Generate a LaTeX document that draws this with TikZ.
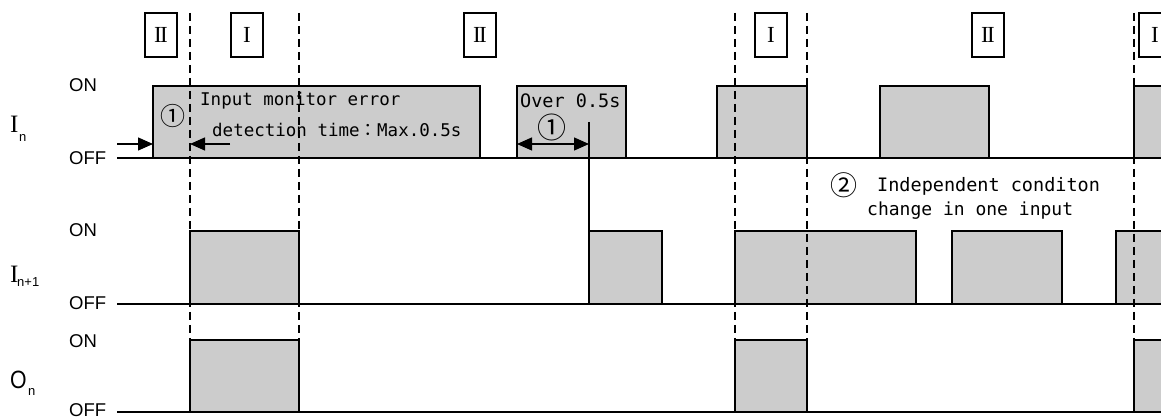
\documentclass[tikz,border=0pt]{standalone}
\usepackage{fontspec}
\setmainfont{Liberation Sans}
\newfontfamily\cjk{Noto Sans CJK JP}
\newfontfamily\mono{DejaVu Sans Mono}
\newfontfamily\serifI{Liberation Serif}
\newcommand\romI{I}
\newcommand\romII{I\kern-1.6pt I}
\usetikzlibrary{arrows.meta}
\begin{document}
\begin{tikzpicture}[x=1pt,y=-1pt,
  pulse/.style={draw=black, line width=1.6pt, fill=black!20},
  base/.style={line width=1.6pt},
  guide/.style={line width=1.5pt, dash pattern=on 8pt off 5pt},
  tag/.style={draw, line width=1.2pt, minimum width=32pt, minimum height=44pt, inner sep=0pt, font=\serifI\fontsize{23}{23}\selectfont},
  lvl/.style={anchor=base west, inner sep=0pt, font=\fontsize{18.5}{18.5}\selectfont},
  note/.style={anchor=base west, inner sep=0pt, font=\mono\fontsize{17.5}{20}\selectfont},
  circ/.style={inner sep=0pt, font=\cjk\fontsize{27}{27}\selectfont},
  sig/.style={anchor=base west, inner sep=0pt, font=\serifI\fontsize{25}{25}\selectfont},
  sub/.style={anchor=base west, inner sep=0pt, font=\fontsize{13}{13}\selectfont},
  arr/.style={line width=1.3pt, -{Triangle[length=15pt,width=13pt]}},
  darr/.style={line width=1.3pt, {Triangle[length=15pt,width=13pt]}-{Triangle[length=15pt,width=13pt]}}
]
\useasboundingbox (0,0) rectangle (1161,419);
\clip (0,0) rectangle (1161,419);

% ---- pulses: I_n
\draw[pulse] (153,158) rectangle (480,86);
\draw[pulse] (517,158) rectangle (626,86);
\draw[pulse] (717,158) rectangle (807,86);
\draw[pulse] (880,158) rectangle (989,86);
\draw[pulse] (1134,158) rectangle (1180,86);
% ---- pulses: I_{n+1}
\draw[pulse] (190,304) rectangle (299,231);
\draw[pulse] (589,304) rectangle (662,231);
\draw[pulse] (735,304) rectangle (916,231);
\draw[pulse] (952,304) rectangle (1062,231);
\draw[pulse] (1116,304) rectangle (1180,231);
% ---- pulses: O_n
\draw[pulse] (190,412) rectangle (299,340);
\draw[pulse] (735,412) rectangle (807,340);
\draw[pulse] (1134,412) rectangle (1180,340);

% ---- OFF base lines
\coordinate (b1s) at (117,158); \coordinate (b1e) at (1180,158);
\coordinate (b2s) at (117,304); \coordinate (b2e) at (1180,304);
\coordinate (b3s) at (117,412); \coordinate (b3e) at (1180,412);
\draw[base] (b1s) -- (b1e);
\draw[base] (b2s) -- (b2e);
\draw[base] (b3s) -- (b3e);

% ---- dashed guides
\foreach \gx/\gn in {190/g1, 299/g2, 735/g3, 807/g4, 1134/g5} {
  \coordinate (\gn t) at (\gx,13);
  \coordinate (\gn b) at (\gx,340);
  \draw[guide] (\gn t) -- (\gn b);
}

% ---- section tags
\node[tag] (s1) at (161,35) {\romII};
\node[tag] (s2) at (247,35) {\romI};
\node[tag] (s3) at (480,35) {\romII};
\node[tag] (s4) at (771,35) {\romI};
\node[tag] (s5) at (988,35) {\romII};
\node[tag] (s6) at (1155,35) {\romI};

% ---- left labels
\node[lvl] (on1) at (69,92) {ON};
\node[lvl] (off1) at (69,165) {OFF};
\node[lvl] (on2) at (69,237) {ON};
\node[lvl] (off2) at (69,310) {OFF};
\node[lvl] (on3) at (69,347) {ON};
\node[lvl] (off3) at (69,416.5) {OFF};

\node[sig] (In) at (10,133) {I};
\node[sub] (Insub) at (19,142) {n};
\node[sig] (In1) at (10,283) {I};
\node[sub] (In1sub) at (17,287) {n+1};
\node[anchor=base west, inner sep=0pt, font=\fontsize{25}{25}\selectfont] (On) at (10,388) {\scalebox{0.85}[1]{O}};
\node[sub] (Onsub) at (28,395) {n};

% ---- annotations
\node[note] (t1) at (200,106) {Input monitor error};
\node[note] (t2) at (212,137) {detection time{\cjk ：}Max.0.5s};
\node[circ, font=\cjk\fontsize{25}{25}\selectfont] (c1) at (173,116) {①};
\coordinate (a1s) at (117,144); \coordinate (a1e) at (153,144);
\coordinate (a2s) at (230,144); \coordinate (a2e) at (190,144);
\draw[arr] (a1s) -- (a1e);
\draw[arr] (a2s) -- (a2e);

\node[note, font=\mono\fontsize{18.5}{20}\selectfont] (t3) at (520,108) {Over 0.5s};
\node[circ, font=\cjk\fontsize{29}{29}\selectfont] (c2) at (552,127) {①};
\coordinate (d1) at (517,144); \coordinate (d2) at (589,144);
\draw[darr] (d1) -- (d2);
\coordinate (vt) at (589,122); \coordinate (vb) at (589,231);
\draw[line width=1.2pt] (vt) -- (vb);

\node[circ] (c3) at (844,185) {②};
\node[note, font=\mono\fontsize{18.5}{20}\selectfont] (t4) at (877,192) {Independent conditon};
\node[note, font=\mono\fontsize{18}{20}\selectfont] (t5) at (867,216) {change in one input};
\end{tikzpicture}
\end{document}
